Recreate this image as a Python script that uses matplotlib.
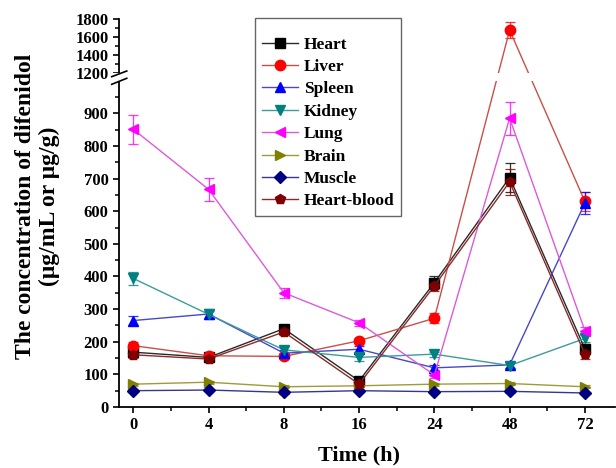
import numpy as np
import matplotlib
matplotlib.use('Agg')
import matplotlib.pyplot as plt
from matplotlib.patches import Rectangle
import matplotlib.transforms as mtransforms

plt.rcParams['font.family'] = ['Liberation Serif', 'DejaVu Serif']
plt.rcParams['font.weight'] = 'bold'

# ── Data ──────────────────────────────────────────────────────────────────────
times = ['0', '4', '8', '16', '24', '48', '72']

heart = [168, 152, 240, 80, 381, 703, 178]
liver = [188, 157, 155, 203, 272, 1680, 630]
spleen = [265, 285, 165, 177, 120, 129, 625]
kidney = [394, 284, 175, 152, 162, 127, 210]
lung = [851, 667, 350, 258, 98, 885, 234]
brain = [70, 76, 62, 65, 70, 72, 62]
muscle = [50, 52, 45, 50, 47, 48, 43]
heart_blood = [160, 147, 230, 70, 371, 690, 162]

heart_err = [10, 8, 10, 8, 20, 45, 15]
liver_err = [10, 8, 8, 8, 15, 90, 30]
spleen_err = [15, 15, 10, 10, 10, 8, 35]
kidney_err = [20, 10, 10, 10, 8, 8, 10]
lung_err = [45, 35, 15, 10, 8, 50, 10]
brain_err = [5, 5, 5, 5, 5, 5, 5]
muscle_err = [4, 4, 4, 4, 4, 4, 4]
heart_blood_err = [10, 8, 10, 8, 15, 40, 15]

# ── Broken y scale: 0-1000 linear, gap 1000-1200, compressed 1200-1800 ───────
BRK_LO, BRK_HI = 1000, 1200
GAP_K, TOP_K = 0.1134, 0.2758
T_HI = BRK_LO + (BRK_HI - BRK_LO) * GAP_K


def fwd(y):
    y = np.asarray(y, dtype=float)
    return np.where(y <= BRK_LO, y,
                    np.where(y <= BRK_HI, BRK_LO + (y - BRK_LO) * GAP_K,
                             T_HI + (y - BRK_HI) * TOP_K))


def inv(t):
    t = np.asarray(t, dtype=float)
    return np.where(t <= BRK_LO, t,
                    np.where(t <= T_HI, BRK_LO + (t - BRK_LO) / GAP_K,
                             BRK_HI + (t - T_HI) / TOP_K))


fig = plt.figure(figsize=(6.16, 4.68), dpi=100)
fig.patch.set_facecolor('white')
ax = fig.add_axes([119 / 616, 1 - 407 / 468, 496 / 616, 387.7 / 468])
ax.set_yscale('function', functions=(fwd, inv))

x = np.arange(len(times))

series = [
    ('Heart', heart, heart_err, 's', '#000000', '#2a2a2a'),
    ('Liver', liver, liver_err, 'o', '#ff0000', '#c8504a'),
    ('Spleen', spleen, spleen_err, '^', '#0000ff', '#4848c8'),
    ('Kidney', kidney, kidney_err, 'v', '#008080', '#3c9c9c'),
    ('Lung', lung, lung_err, '<', '#ff00ff', '#dc5adc'),
    ('Brain', brain, brain_err, '>', '#808000', '#9c9c3a'),
    ('Muscle', muscle, muscle_err, 'D', '#000080', '#363690'),
    ('Heart-blood', heart_blood, heart_blood_err, 'p', '#800000', '#8c2a2a'),
]

for name, vals, err, mk, mc, lc in series:
    ms = 6 if mk == 'D' else 7.5
    ax.errorbar(x, vals, yerr=err, fmt='none', ecolor=mc, elinewidth=0.9,
                capsize=3.5, capthick=0.9, alpha=0.8, zorder=2)
    ax.plot(x, vals, color=lc, lw=1.0, marker=mk, markersize=ms,
            markerfacecolor=mc, markeredgecolor=mc, label=name, zorder=2.2)

ax.set_xlim(-0.19, 6.4)
ax.set_ylim(0, 1800)

ax.set_xticks(x)
ax.set_xticklabels(times)
ax.set_xticks(x[:-1] + 0.5, minor=True)

ax.set_yticks([0, 100, 200, 300, 400, 500, 600, 700, 800, 900,
               1200, 1400, 1600, 1800])
ax.set_yticks([50, 150, 250, 350, 450, 550, 650, 750, 850, 950,
               1300, 1500, 1700], minor=True)

for s in ['top', 'right']:
    ax.spines[s].set_visible(False)
for s in ['left', 'bottom']:
    ax.spines[s].set_linewidth(1.3)

ax.tick_params(which='major', direction='out', length=4.5, width=1.2,
               labelsize=12, pad=3)
ax.tick_params(which='minor', direction='out', length=2.8, width=1.1)
for lab in ax.get_xticklabels() + ax.get_yticklabels():
    lab.set_fontweight('bold')

# gap band that breaks lines and spine
trans = mtransforms.blended_transform_factory(ax.transAxes, ax.transData)
ax.add_patch(Rectangle((-0.02, BRK_LO), 1.04, BRK_HI - BRK_LO,
                       transform=trans, facecolor='white', edgecolor='none',
                       clip_on=False, zorder=3))
# break marks
ax.plot([-0.0147, 0.0156], [0.852, 0.8666], transform=ax.transAxes,
        color='black', lw=1.2, clip_on=False, zorder=4)
ax.plot([-0.0147, 0.0156], [0.8323, 0.8478], transform=ax.transAxes,
        color='black', lw=1.2, clip_on=False, zorder=4)

ax.set_xlabel('Time (h)', fontsize=16, fontweight='bold')
ax.xaxis.set_label_coords(0.484, -0.1)
ax.set_ylabel('The concentration of difenidol\n(\u03bcg/mL or \u03bcg/g)',
              fontsize=17, fontweight='bold', linespacing=1.2)
ax.yaxis.set_label_coords(-0.118, 0.518)

leg = ax.legend(loc='upper left', bbox_to_anchor=(255 / 616, 1 - 18.3 / 468),
                bbox_transform=fig.transFigure, frameon=True, fancybox=False,
                framealpha=1, edgecolor='#666666', handlelength=2.1,
                handletextpad=0.3, labelspacing=0.36, borderpad=0.4,
                borderaxespad=0, prop={'size': 12.5, 'weight': 'bold'},
                title=' ', title_fontsize=5)
leg.get_frame().set_linewidth(1.0)
leg.set_zorder(6)

fig.savefig('out.png', dpi=100, facecolor='white')
